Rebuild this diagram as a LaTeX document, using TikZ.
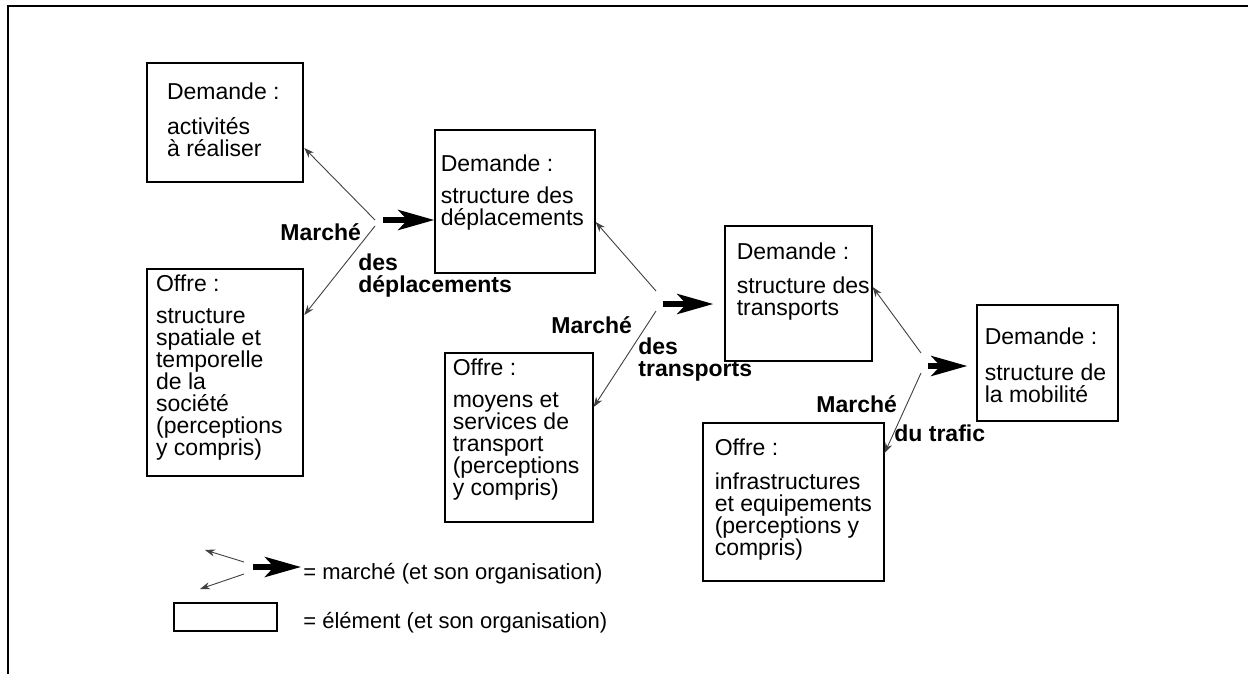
\documentclass[tikz,border=0pt]{standalone}
\usepackage{fontspec}
\setmainfont{Liberation Sans}
\usetikzlibrary{arrows.meta, positioning, fit, calc}

\begin{document}
\begin{tikzpicture}[
    x=0.5pt, y=-0.5pt,
    box/.style={rectangle, draw=black, line width=0.65pt, inner sep=0pt},
    boxthick/.style={box, line width=1.3pt},
    txt/.style={anchor=north west, align=left, inner sep=0pt, font=\fontsize{11.5}{11}\selectfont},
    mkt/.style={anchor=north west, align=left, inner sep=0pt, font=\fontsize{11.5}{11}\selectfont\bfseries},
    legtxt/.style={anchor=base west, inner sep=0pt, font=\fontsize{11}{11}\selectfont},
    arrow/.style={draw=black!75, line width=0.45pt, -{Stealth[length=5pt, width=3.6pt]}},
    bigarrow/.style={line width=2.8pt, -{Stealth[length=18pt, width=10pt, inset=4.5pt]}}
]
\useasboundingbox (0,0) rectangle (1248,674);

% Frame
\draw[line width=1.3pt] (8,674) -- (8,6) -- (1248,6);

% Elements
\node[boxthick, fit={(147,63) (303,182)}] (actA) {};
\node[boxthick, fit={(147,269) (303,476)}] (offA) {};
\node[box, fit={(435,130) (595,273)}] (depB) {};
\node[box, fit={(445,353) (593,522)}] (offB) {};
\node[box, fit={(725,226) (872,361)}] (traC) {};
\node[box, fit={(703,423) (884,581)}] (offC) {};
\node[box, fit={(977,305) (1118,421)}] (mobD) {};

% Texts of the elements
\node[txt] (actA-t) at ($(actA.north west)+(21,21)$) {Demande :\\[6.5pt]activités\\à réaliser};
\node[txt] (offA-t) at ($(offA.north west)+(10,7)$) {Offre :\\[5pt]structure\\spatiale et\\temporelle\\de la\\société\\(perceptions\\y compris)};
\node[txt] (depB-t) at ($(depB.north west)+(6,25)$) {Demande :\\[5pt]structure des\\déplacements};
\node[txt] (offB-t) at ($(offB.north west)+(8,6)$) {Offre :\\[5pt]moyens et\\services de\\transport\\(perceptions\\y compris)};
\node[txt] (traC-t) at ($(traC.north west)+(12,17)$) {Demande :\\[6pt]structure des\\transports};
\node[txt] (offC-t) at ($(offC.north west)+(12,16)$) {Offre :\\[6pt]infrastructures\\et equipements\\(perceptions y\\compris)};
\node[txt] (mobD-t) at ($(mobD.north west)+(8,23)$) {Demande :\\[7pt]structure de\\la mobilité};

% Market of trips
\coordinate (m1up) at (375,220);
\coordinate (m1lo) at (375,226);
\coordinate (m1out) at (383,220);
\draw[arrow] (m1up) -- (actA.east |- 0,148);
\draw[arrow] (m1lo) -- (offA.east |- 0,315);
\draw[bigarrow] (m1out) -- (depB.west |- m1out);
\node[mkt] (m1-a) at (280,223) {Marché};
\node[mkt] (m1-b) at (358,253) {des\\déplacements};

% Market of transports
\coordinate (m2up) at (656,291);
\coordinate (m2lo) at (656,311);
\coordinate (m2out) at (663,304);
\draw[arrow] (m2up) -- (depB.east |- 0,222);
\draw[arrow] (m2lo) -- (offB.east |- 0,407);
\draw[bigarrow] (m2out) -- ([xshift=-5.5pt]traC.west |- m2out);
\node[mkt] (m2-a) at (551,316) {Marché};
\node[mkt] (m2-b) at (638,337) {des\\transports};

% Market of traffic
\coordinate (m3up) at (921,353);
\coordinate (m3lo) at (921,373);
\coordinate (m3out) at (928,366);
\draw[arrow] (m3up) -- (traC.east |- 0,287);
\draw[arrow] (m3lo) -- (offC.east |- 0,453);
\draw[bigarrow] (m3out) -- ([xshift=-4.5pt]mobD.west |- m3out);
\node[mkt] (m3-a) at (816,395) {Marché};
\node[mkt] (m3-b) at (894,424) {du trafic};

% Legend
\coordinate (lgup) at (244,562);
\coordinate (lglo) at (244,574);
\coordinate (lgout) at (253,567);
\node[legtxt] (lg-mkt) at (303,579) {= marché (et son organisation)};
\draw[arrow] (lgup) -- (205,550);
\draw[arrow] (lglo) -- (200,589);
\draw[bigarrow] (lgout) -- ([xshift=-1pt]lg-mkt.west |- lgout);
\node[box, fit={(174,603) (277,631)}] (lg-box) {};
\node[legtxt] (lg-elem) at (303,628) {= élément (et son organisation)};

\end{tikzpicture}
\end{document}
